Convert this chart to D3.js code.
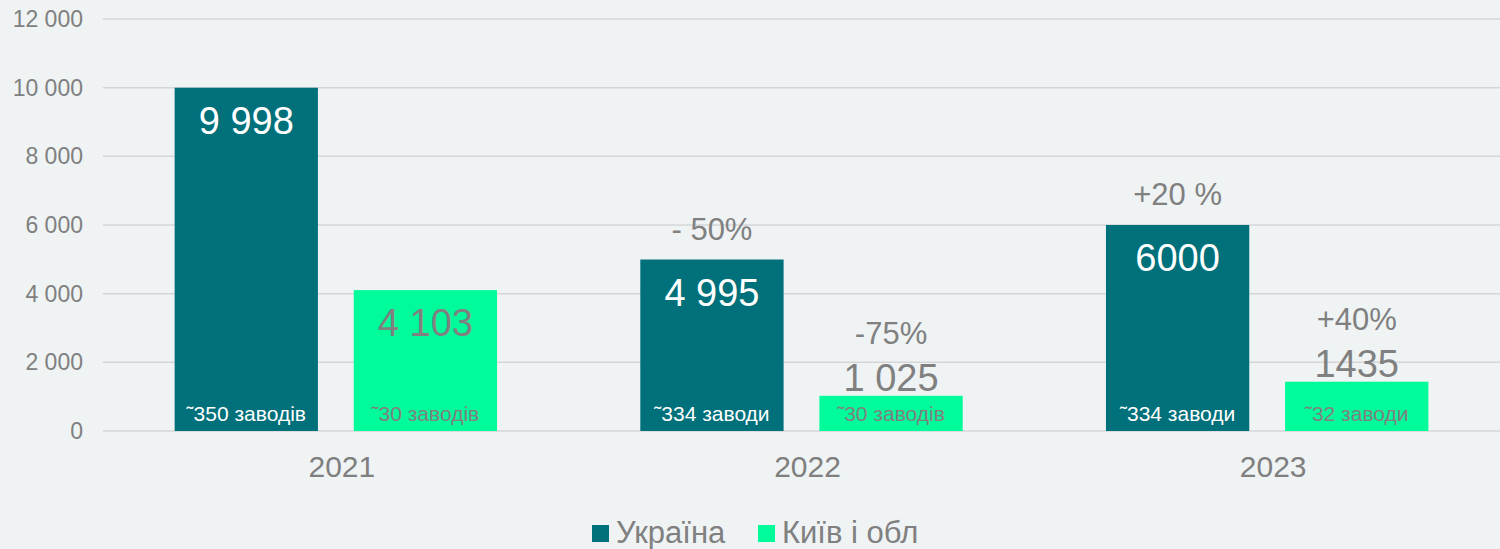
<!DOCTYPE html>
<html>
<head>
<meta charset="utf-8">
<script src="https://cdn.jsdelivr.net/npm/d3@7"></script>
<style>
  body { margin: 0; background: #eff3f4; }
  svg { display: block; font-family: "Liberation Sans", Arial, sans-serif; }
</style>
</head>
<body>
<div id="chart"></div>
<script>
// data
const years = ["2021", "2022", "2023"];
const seriesNames = ["Україна", "Київ і обл"];
const ukraine = [9998, 4995, 6000];
const kyiv = [4103, 1025, 1435];
const ukraineLabels = ["9 998", "4 995", "6000"];
const kyivLabels = ["4 103", "1 025", "1435"];
const ukraineChange = ["", "- 50%", "+20 %"];
const kyivChange = ["", "-75%", "+40%"];
const ukrainePlants = ["˜350 заводів", "˜334 заводи", "˜334 заводи"];
const kyivPlants = ["˜30 заводів", "˜30 заводів", "˜32 заводи"];
const yTicks = [0, 2000, 4000, 6000, 8000, 10000, 12000];

const colors = ["#00707b", "#00fb9b"];
const textColors = ["#ffffff", "#808080"];

const width = 1500, height = 549;
const margin = {top: 19, right: 0, bottom: 118, left: 103};

const svg = d3.select("#chart")
  .append("svg")
  .attr("width", width)
  .attr("height", height);

svg.append("rect")
  .attr("width", width)
  .attr("height", height)
  .attr("fill", "#eff3f4");

const x0 = d3.scaleBand()
  .domain(years)
  .range([margin.left, width - margin.right])
  .padding(0);

const x1 = d3.scaleBand()
  .domain(seriesNames)
  .range([0, x0.bandwidth()])
  .paddingInner(0.2)
  .paddingOuter(0.4);

const y = d3.scaleLinear()
  .domain([0, 12000])
  .range([height - margin.bottom, margin.top]);

// gridlines
svg.append("g")
  .selectAll("line")
  .data(yTicks)
  .join("line")
    .attr("x1", margin.left)
    .attr("x2", width - margin.right)
    .attr("y1", d => y(d))
    .attr("y2", d => y(d))
    .attr("stroke", "#d6d6d8")
    .attr("stroke-width", 1.5);

// y axis labels
const fmt = d => d3.format(",")(d).replace(/,/g, " ");
svg.append("g")
  .selectAll("text")
  .data(yTicks)
  .join("text")
    .attr("x", 83)
    .attr("y", d => y(d))
    .attr("dy", "0.35em")
    .attr("text-anchor", "end")
    .attr("fill", "#808080")
    .attr("font-size", 23)
    .text(fmt);

// x axis labels
svg.append("g")
  .selectAll("text")
  .data(years)
  .join("text")
    .attr("x", d => x0(d) + x0.bandwidth() / 2 + 6)
    .attr("y", 477)
    .attr("text-anchor", "middle")
    .attr("fill", "#7f7f7f")
    .attr("font-size", 30)
    .text(d => d);

const series = [
  {name: seriesNames[0], values: ukraine, labels: ukraineLabels, change: ukraineChange, plants: ukrainePlants},
  {name: seriesNames[1], values: kyiv, labels: kyivLabels, change: kyivChange, plants: kyivPlants}
];

series.forEach((s, si) => {
  const rows = years.map((yr, i) => ({
    year: yr, value: s.values[i], label: s.labels[i], change: s.change[i], plants: s.plants[i]
  }));
  const g = svg.append("g");
  const cx = d => x0(d.year) + x1(s.name) + x1.bandwidth() / 2;
  const inside = d => (y(0) - y(d.value)) > 60;

  g.selectAll("rect")
    .data(rows)
    .join("rect")
      .attr("x", d => x0(d.year) + x1(s.name))
      .attr("y", d => y(d.value))
      .attr("width", x1.bandwidth())
      .attr("height", d => y(0) - y(d.value))
      .attr("fill", colors[si]);

  // value labels
  g.selectAll(".val")
    .data(rows)
    .join("text")
      .attr("class", "val")
      .attr("x", cx)
      .attr("y", d => inside(d) ? y(d.value) + 46 : y(d.value) - 5)
      .attr("text-anchor", "middle")
      .attr("fill", d => inside(d) ? textColors[si] : "#808080")
      .attr("font-size", 38)
      .text(d => d.label);

  // change labels
  g.selectAll(".chg")
    .data(rows.filter(d => d.change))
    .join("text")
      .attr("class", "chg")
      .attr("x", cx)
      .attr("y", d => inside(d) ? y(d.value) - 20 : y(d.value) - 52)
      .attr("text-anchor", "middle")
      .attr("fill", "#808080")
      .attr("font-size", 31)
      .text(d => d.change);

  // plant counts
  g.selectAll(".pl")
    .data(rows)
    .join("text")
      .attr("class", "pl")
      .attr("x", cx)
      .attr("y", 421)
      .attr("text-anchor", "middle")
      .attr("fill", textColors[si])
      .attr("font-size", 21)
      .text(d => d.plants);
});

// legend
const legendX = [592, 758];
const legend = svg.append("g")
  .selectAll("g")
  .data(seriesNames)
  .join("g")
    .attr("transform", (d, i) => `translate(${legendX[i]}, 525)`);
legend.append("rect")
  .attr("width", 17)
  .attr("height", 17)
  .attr("fill", (d, i) => colors[i]);
legend.append("text")
  .attr("x", 24)
  .attr("y", 18)
  .attr("fill", "#808080")
  .attr("font-size", 31)
  .text(d => d);
</script>
</body>
</html>
